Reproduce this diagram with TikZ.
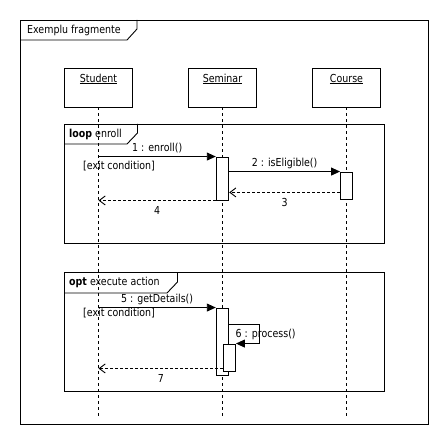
\documentclass[tikz,border=0pt]{standalone}
\usepackage{fontspec}
\setmainfont{DejaVu Sans}[FakeStretch=0.86]
\usetikzlibrary{arrows.meta}
\begin{document}
\begin{tikzpicture}[x=1pt,y=-1pt,
  font=\fontsize{11}{13}\selectfont,
  frame/.style={draw, line width=0.9pt},
  objbox/.style={draw, line width=0.9pt, minimum width=68pt, minimum height=39pt, inner sep=0pt},
  objlabel/.style={inner sep=0pt},
  lifeline/.style={line width=0.9pt, dash pattern=on 3pt off 3pt},
  actbox/.style={draw, fill=white, line width=0.9pt, minimum width=12.5pt, inner sep=0pt},
  sync/.style={line width=0.9pt, -{Triangle[length=9pt,width=8pt]}},
  ret/.style={line width=0.9pt, dash pattern=on 3pt off 2pt, -{Straight Barb[length=6pt,width=9pt]}},
  msgabove/.style={midway, anchor=base, inner sep=0pt, yshift=5.5pt},
  msgbelow/.style={midway, anchor=base, inner sep=0pt, yshift=-14.5pt},
  plain/.style={inner sep=0pt, anchor=west}
]
\useasboundingbox (0,0) rectangle (448,444);

% outer frame
\draw[frame] (20,20) rectangle (428,424);
\draw[frame] (20,40) -- (127,40) -- (137,29) -- (137,20);
\node[plain] (title) at (27,30.5) {Exemplu fragmente};

% objects
\node[objbox] (student) at (98.5,87.5) {};
\node[objbox] (seminar) at (222.5,87.5) {};
\node[objbox] (course) at (346.5,87.5) {};
\node[objlabel] (studentL) at (98.5,79) {\underline{Student}};
\node[objlabel] (seminarL) at (222.5,79) {\underline{Seminar}};
\node[objlabel] (courseL) at (346.5,79) {\underline{Course}};

% lifelines
\coordinate (studentEnd) at (98.5,418);
\coordinate (seminarEnd) at (222.5,418);
\coordinate (courseEnd) at (346.5,418);
\draw[lifeline] (student.south) -- (studentEnd);
\draw[lifeline] (seminar.south) -- (seminarEnd);
\draw[lifeline] (course.south) -- (courseEnd);

% loop fragment
\draw[frame] (64,124) rectangle (384,243);
\draw[frame] (64,144) -- (127,144) -- (137.5,133) -- (137.5,124);
\node[plain] (loopL) at (69,134.5) {\textbf{loop} enroll};

% opt fragment
\draw[frame] (64,272) rectangle (384,391);
\draw[frame] (64,293) -- (167,293) -- (177.5,282) -- (177.5,272);
\node[plain] (optL) at (69,282.5) {\textbf{opt} execute action};

% activations
\node[actbox, minimum height=43pt] (a1) at (222.5,178.5) {};
\node[actbox, minimum height=27pt, minimum width=12pt] (c1) at (346.5,185.5) {};
\node[actbox, minimum height=67pt] (a2) at (222.5,341.5) {};
\node[actbox, minimum height=27pt, minimum width=12pt] (a3) at (229.5,357.5) {};

% guards
\node[plain] (g1) at (83,166.5) {[exit condition]};
\node[plain] (g2) at (83,313.5) {[exit condition]};

% messages
\draw[sync] (student |- a1.north west) -- node[msgabove] {1 : enroll()} (a1.north west);
\draw[sync] (a1.east |- c1.north west) -- node[msgabove] {2 : isEligible()} (c1.north west);
\coordinate (m3s) at ([yshift=7pt]c1.south west);
\draw[ret] (m3s) -- node[msgbelow] {3} (a1.east |- m3s);
\draw[ret] (a1.south west) -- node[msgbelow] {4} (student |- a1.south west);
\draw[sync] (student |- a2.north west) -- node[msgabove] {5 : getDetails()} (a2.north west);
\coordinate (m6s) at (a2.east |- 0,324.5);
\coordinate (m6c) at (259.5,324.5);
\draw[sync] (m6s) -- (m6c) |- (a3.north east);
\node[plain] (m6L) at (235.5,334.5) {6 : process()};
\coordinate (m7s) at ([yshift=3pt]a3.south west);
\draw[ret] (m7s) -- node[msgbelow] {7} (student |- m7s);
\end{tikzpicture}
\end{document}
